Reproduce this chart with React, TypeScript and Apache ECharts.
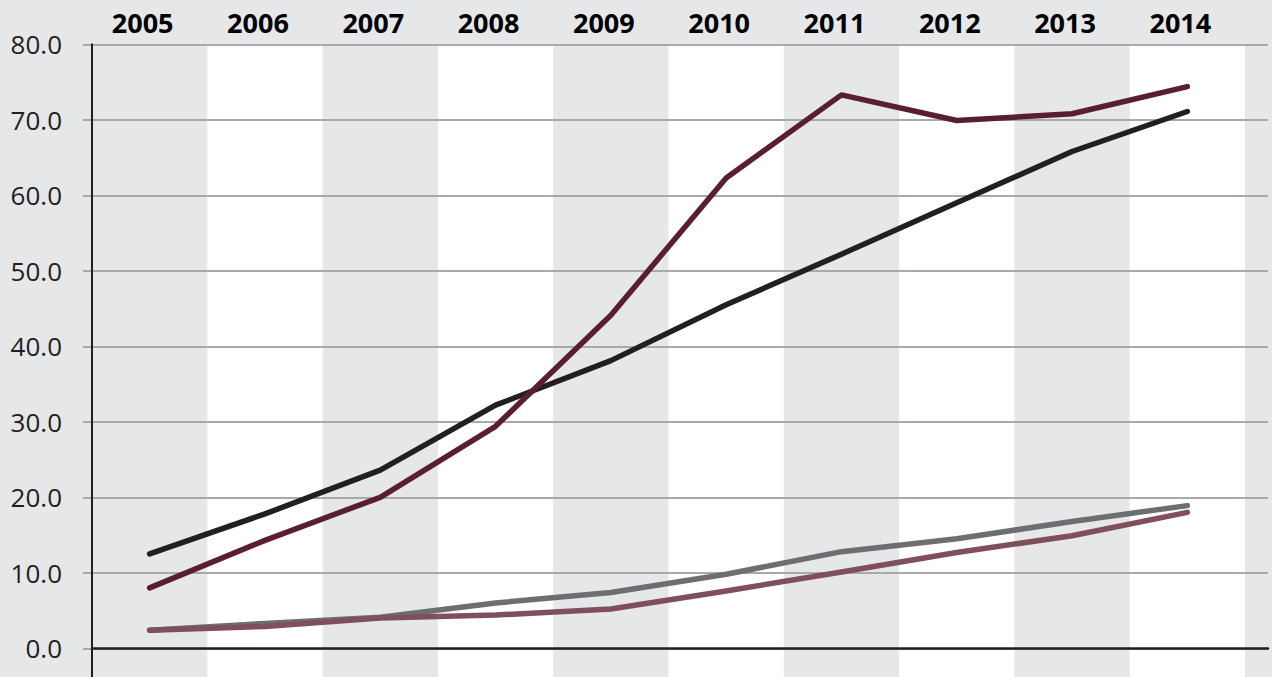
import React, { useEffect, useRef } from "react";
import * as echarts from "echarts";

const years = ["2005", "2006", "2007", "2008", "2009", "2010", "2011", "2012", "2013", "2014"];
const darkMaroonValues = [8.0, 14.3, 20.0, 29.4, 44.1, 62.3, 73.3, 69.9, 70.8, 74.4];
const blackValues = [12.5, 17.8, 23.6, 32.2, 38.1, 45.5, 52.2, 59.0, 65.8, 71.1];
const grayValues = [2.4, 3.3, 4.1, 6.0, 7.4, 9.8, 12.8, 14.5, 16.8, 18.9];
const lightMaroonValues = [2.4, 2.9, 4.0, 4.4, 5.2, 7.6, 10.1, 12.7, 14.9, 18.0];
const yMin = 0;
const yMax = 80;
const yStep = 10;

const BG = "#e6e7e8";
const GRID_LINE = "#a7a9ac";
const DARK = "#231f20";

export default function App() {
  const ref = useRef<HTMLDivElement>(null);
  useEffect(() => {
    if (!ref.current) return;
    const chart = echarts.init(ref.current, null, { renderer: "svg" });
    const mkLine = (name: string, data: number[], color: string) => ({
      name,
      type: "line",
      xAxisIndex: 0,
      yAxisIndex: 0,
      data,
      showSymbol: false,
      symbol: "none",
      z: 5,
      lineStyle: { color, width: 5.5, cap: "round", join: "round" },
      emphasis: { disabled: true },
    });
    chart.setOption({
      animation: false,
      backgroundColor: BG,
      grid: [
        { left: 92, right: 27, top: 44.3, bottom: 28.7 },
        { left: 92, right: 27, top: 648.3, bottom: 0 },
        { left: 83, right: 4, top: 44.3, bottom: 28.7 },
        { left: 92, right: 4, top: 44.3, bottom: 28.7 },
      ],
      xAxis: [
        {
          type: "category",
          gridIndex: 0,
          data: years,
          position: "top",
          boundaryGap: true,
          axisLine: { show: false },
          axisTick: { show: false },
          axisLabel: {
            show: true,
            margin: 8,
            fontFamily: "Open Sans",
            fontWeight: "bold",
            fontSize: 27,
            color: "#000",
            padding: [0, 14, 0, 0],
          },
          splitLine: { show: false },
          splitArea: { show: true, areaStyle: { color: ["rgba(0,0,0,0)", "#ffffff"] } },
          z: 0,
        },
        {
          type: "category",
          gridIndex: 1,
          data: years,
          boundaryGap: true,
          axisLine: { show: false },
          axisTick: { show: false },
          axisLabel: { show: false },
          splitLine: { show: false },
          splitArea: { show: true, areaStyle: { color: ["rgba(0,0,0,0)", "#ffffff"] } },
          z: 0,
        },
        {
          type: "value",
          gridIndex: 2,
          min: 0,
          max: 1,
          show: false,
        },
        {
          type: "value",
          gridIndex: 3,
          min: 0,
          max: 1,
          position: "bottom",
          axisLine: { show: true, onZero: false, lineStyle: { color: DARK, width: 2.5 } },
          axisTick: { show: false },
          axisLabel: { show: false },
          splitLine: { show: false },
          z: 3,
        },
      ],
      yAxis: [
        {
          type: "value",
          gridIndex: 0,
          min: yMin,
          max: yMax,
          interval: yStep,
          axisLine: { show: true, lineStyle: { color: DARK, width: 2 } },
          axisTick: { show: false },
          axisLabel: { show: false },
          splitLine: { show: false },
          z: 3,
        },
        {
          type: "value",
          gridIndex: 1,
          min: 0,
          max: 1,
          axisLine: { show: true, lineStyle: { color: DARK, width: 2 } },
          axisTick: { show: false },
          axisLabel: { show: false },
          splitLine: { show: false },
          z: 3,
        },
        {
          type: "value",
          gridIndex: 2,
          min: yMin,
          max: yMax,
          interval: yStep,
          axisLine: { show: false },
          axisTick: { show: false },
          axisLabel: {
            show: true,
            margin: 21,
            fontFamily: "Open Sans",
            fontSize: 26,
            color: DARK,
            formatter: (v: number) => v.toFixed(1),
          },
          splitLine: { show: true, lineStyle: { color: GRID_LINE, width: 2 } },
          z: 1,
        },
        {
          type: "value",
          gridIndex: 3,
          min: 0,
          max: 1,
          show: false,
        },
      ],
      series: [
        mkLine("Black", blackValues, DARK),
        mkLine("Dark maroon", darkMaroonValues, "#5a1e34"),
        mkLine("Gray", grayValues, "#6d6e71"),
        mkLine("Light maroon", lightMaroonValues, "#7f4f5b"),
      ],
    });
    return () => chart.dispose();
  }, []);
  return (
    <div
      ref={ref}
      style={{ position: "fixed", left: 0, top: 0, width: 1272, height: 677 }}
    />
  );
}
